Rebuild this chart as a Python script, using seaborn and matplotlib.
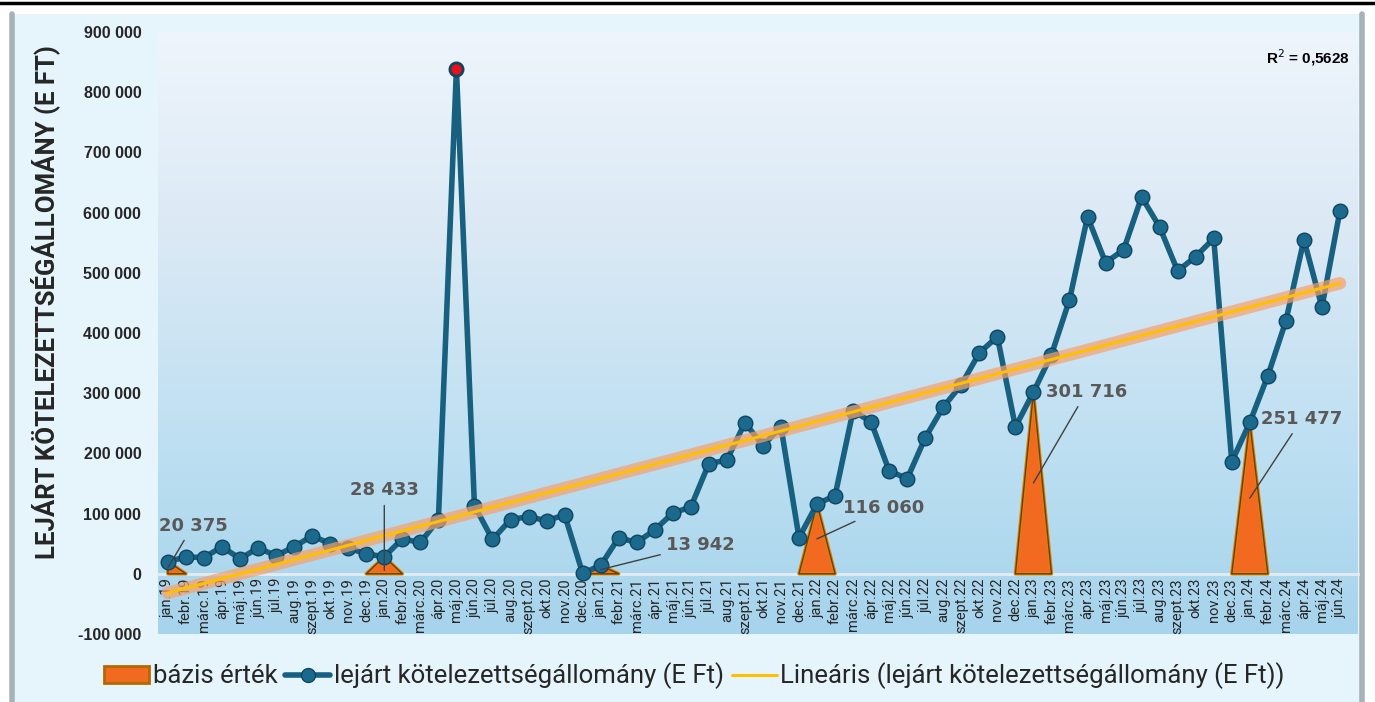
import numpy as np
import pandas as pd
import matplotlib
matplotlib.use("Agg")
import matplotlib.pyplot as plt
import seaborn as sns
from matplotlib.colors import LinearSegmentedColormap
from matplotlib.patches import Patch, Rectangle
from matplotlib.lines import Line2D

# ---- data ----
month_names = ["jan.", "febr.", "márc.", "ápr.", "máj.", "jún.",
               "júl.", "aug.", "szept.", "okt.", "nov.", "dec."]
years = ["19", "20", "21", "22", "23", "24"]
months = [m + y for y in years for m in month_names][:66]

values = [20375, 28000, 27000, 45000, 25000, 43000, 30000, 45000, 63000, 50000, 43000, 33000,
          28433, 58000, 52000, 90000, 839000, 113000, 57000, 90000, 95000, 88000, 98000, 1000,
          13942, 60000, 52000, 73000, 101000, 111000, 183000, 189000, 251000, 213000, 244000, 60000,
          116060, 130000, 271000, 252000, 171000, 158000, 226000, 277000, 314000, 367000, 394000, 244000,
          301716, 364000, 455000, 593000, 517000, 538000, 626000, 576000, 503000, 527000, 557000, 186000,
          251477, 329000, 420000, 555000, 443000, 603000]

base_months = ["jan.19", "jan.20", "jan.21", "jan.22", "jan.23", "jan.24"]
base_values = [20375, 28433, 13942, 116060, 301716, 251477]
base_labels = ["20 375", "28 433", "13 942", "116 060", "301 716", "251 477"]

r2_text = "R$^2$ = 0,5628"
y_ticks = list(range(-100000, 900001, 100000))

df = pd.DataFrame({"month": months, "value": values})
df["idx"] = np.arange(len(df))
base_map = dict(zip(base_months, base_values))
df["base"] = df["month"].map(base_map).fillna(0)
# the area series only shows around the January points
near = (df["base"] > 0) | (df["base"].shift(1) > 0) | (df["base"].shift(-1) > 0)
df["base_area"] = df["base"].where(near)

# ---- style ----
line_col = "#17607f"
orange = "#f26a1f"
text_gray = "#595959"

sns.set_style("white")
plt.rcParams["font.family"] = ["DejaVu Sans"]

fig = plt.figure(figsize=(13.75, 7.02), dpi=100, facecolor="white")
# panel background
fig.add_artist(Rectangle((12 / 1375, 0), 1350 / 1375, 1 - 14 / 702,
                         transform=fig.transFigure, facecolor="#e6f4fc",
                         edgecolor="none", zorder=-10))
fig.add_artist(Line2D([12 / 1375, 12 / 1375], [0, 1 - 14 / 702], transform=fig.transFigure,
                      color="#a7b1b8", lw=4, zorder=-9))
fig.add_artist(Line2D([1362 / 1375, 1362 / 1375], [0, 1 - 14 / 702], transform=fig.transFigure,
                      color="#a7b1b8", lw=4, zorder=-9))
fig.add_artist(Line2D([0, 1], [1 - 3 / 702, 1 - 3 / 702], transform=fig.transFigure,
                      color="black", lw=2.5))

ax = fig.add_axes([158 / 1375, 1 - 634 / 702, 1200 / 1375, 602 / 702])
ax.set_facecolor("none")

# gradient plot area
grad = np.linspace(0, 1, 256).reshape(-1, 1)
cmap = LinearSegmentedColormap.from_list("bg", ["#eef5fc", "#dbe9f5", "#bfe0f2", "#a6d4ec"])
ax.imshow(grad, extent=[0, 1, 0, 1], transform=ax.transAxes, aspect="auto",
          cmap=cmap, origin="upper", zorder=0)

# base value triangles (area series)
ax.fill_between(df["idx"], df["base_area"], 0, facecolor=orange, edgecolor="#d08a00",
                lw=2.5, zorder=2)
ax.fill_between(df["idx"], df["base_area"], 0, facecolor="none", edgecolor="#7a3410",
                lw=1.0, zorder=2)

# main line
sns.lineplot(data=df, x="idx", y="value", ax=ax, color=line_col, lw=4,
             marker="o", markersize=10.5, markerfacecolor="#1b6a8e",
             markeredgecolor="#0f4560", markeredgewidth=1, zorder=4)
imax = int(np.argmax(df["value"]))
ax.plot(df["idx"][imax], df["value"][imax], "o", color="#e8101a", markersize=9,
        markeredgecolor="#0f4560", markeredgewidth=1.5, zorder=5)

# linear trend with glow
sns.regplot(data=df, x="idx", y="value", ax=ax, scatter=False, ci=None,
            line_kws=dict(color="#f7a06a", lw=9, alpha=0.7, zorder=6, solid_capstyle="round"))
sns.regplot(data=df, x="idx", y="value", ax=ax, scatter=False, ci=None,
            line_kws=dict(color="#ffc000", lw=2.2, zorder=7))

# data labels for base values
offsets = [(25, 42), (0, 80), (100, 25), (67, 31), (53, 91), (52, 79)]
fracs = [0.5, 0.2, 0.5, 0.5, 0.5, 0.5]
for m, v, lab, off, fr in zip(base_months, base_values, base_labels, offsets, fracs):
    i = months.index(m)
    ax.annotate(lab, xy=(i, v * fr), xytext=off, textcoords="offset pixels",
                ha="center", va="center", fontsize=13, fontweight="bold", color=text_gray,
                arrowprops=dict(arrowstyle="-", color="#404040", lw=1,
                                shrinkA=2, shrinkB=0), zorder=8)

ax.text(0.993, 0.975, r2_text, transform=ax.transAxes, ha="right", va="top",
        fontsize=11, fontweight="bold", color="black", family="Liberation Sans")

# axes
for s in ["top", "right", "left"]:
    ax.spines[s].set_visible(False)
ax.spines["bottom"].set_position(("data", 0))
ax.spines["bottom"].set_color("#e4ecf1")
ax.spines["bottom"].set_linewidth(2)
ax.spines["bottom"].set_zorder(1)

ax.set_xlim(-0.55, 66.0)
ax.set_ylim(-100000, 900000)
ax.set_yticks(y_ticks)
ax.set_yticklabels([f"{t:,}".replace(",", " ") for t in y_ticks],
                   fontsize=11.5, fontweight="bold", family="Liberation Sans")
ax.set_xticks(df["idx"])
ax.set_xticklabels(df["month"], rotation=90, fontsize=10.5, family="Roboto")
ax.tick_params(axis="both", length=0)
ax.tick_params(axis="y", pad=12)
ax.tick_params(axis="x", pad=3)
ax.set_xlabel("")
ax.set_ylabel("")

fig.text(45 / 1375, 1 - 302 / 702, "LEJÁRT KÖTELEZETTSÉGÁLLOMÁNY (E FT)", rotation=90,
         ha="center", va="center", fontsize=18.5, fontweight="bold", family="Roboto")

handles = [
    Patch(facecolor=orange, edgecolor="#b06a00", lw=2),
    Line2D([0], [0], color=line_col, lw=4, marker="o", markersize=10,
           markerfacecolor="#1b6a8e", markeredgecolor="#0f4560"),
    Line2D([0], [0], color="#ffc000", lw=2.2),
]
labels = ["bázis érték", "lejárt kötelezettségállomány (E Ft)",
          "Lineáris (lejárt kötelezettségállomány (E Ft))"]
fig.legend(handles, labels, loc="center", bbox_to_anchor=(0.505, 1 - 676 / 702), ncol=3,
           frameon=False, prop=dict(family="Roboto", size=18.5), handlelength=1.75,
           handleheight=0.6, handletextpad=0.15, columnspacing=0.3)

fig.savefig("out.png", dpi=100, facecolor=fig.get_facecolor())
